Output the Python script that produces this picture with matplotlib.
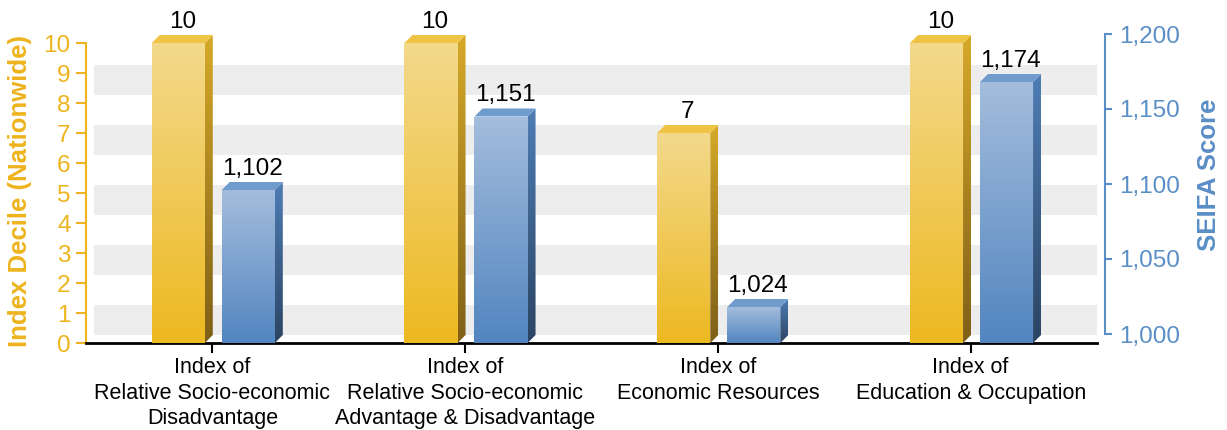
import matplotlib
matplotlib.use('Agg')
import numpy as np
import matplotlib.pyplot as plt
from matplotlib.patches import Polygon, Rectangle
from matplotlib.colors import to_rgb

plt.rcParams['font.family'] = ['Liberation Sans', 'DejaVu Sans']

# ---- data ----
categories = ["Index of\nRelative Socio-economic\nDisadvantage",
              "Index of\nRelative Socio-economic\nAdvantage & Disadvantage",
              "Index of\nEconomic Resources",
              "Index of\nEducation & Occupation"]
decile = [10, 10, 7, 10]
score = [1102, 1151, 1024, 1174]

yellow = '#EDB41E'
blue = '#5A8EC6'
W, H, DPI = 1227, 430, 100
DEPTH = 8  # px of fake 3d depth

fig = plt.figure(figsize=(W / DPI, H / DPI), dpi=DPI)
left, right, bottom, top = 86, 1097, 343, 19
ax1 = fig.add_axes([left / W, (H - bottom) / H, (right - left) / W, (bottom - top) / H])
ax2 = ax1.twinx()
for a in (ax1, ax2):
    a.set_autoscale_on(False)
ax1.set_xlim(-0.5, len(categories) - 0.5)
ax1.set_ylim(0, 10.8)
ax2.set_ylim(1000, 1216)


def depth(ax):
    inv = ax.transData.inverted()
    p0 = inv.transform((0, 0))
    p1 = inv.transform((DEPTH, DEPTH))
    return p1 - p0


def grad(ax, verts, c_top, c_bot, z):
    poly = Polygon(verts, closed=True, facecolor='none', edgecolor='none', zorder=z)
    ax.add_patch(poly)
    xs = [v[0] for v in verts]
    ys = [v[1] for v in verts]
    t = np.linspace(0, 1, 256)[:, None]
    arr = (1 - t) * np.array(to_rgb(c_top)) + t * np.array(to_rgb(c_bot))
    im = ax.imshow(arr[:, None, :], extent=[min(xs), max(xs), min(ys), max(ys)],
                   aspect='auto', origin='upper', interpolation='bilinear', zorder=z)
    im.set_clip_path(poly)


def bar3d(ax, c, v, base, w, cols, label):
    dx, dy = depth(ax)
    x0, x1 = c - w / 2, c + w / 2
    grad(ax, [(x0, base), (x0, v), (x1, v), (x1, base)], cols[0], cols[1], 3)
    grad(ax, [(x1, base), (x1 + dx, base + dy), (x1 + dx, v + dy), (x1, v)], cols[2], cols[3], 3)
    ax.add_patch(Polygon([(x0, v), (x0 + dx, v + dy), (x1 + dx, v + dy), (x1, v)],
                         closed=True, facecolor=cols[4], edgecolor='none', zorder=3, clip_on=False))
    ax.annotate(label, (c + dx / 2, v + dy), xytext=(0, 1.5), textcoords='offset points',
                ha='center', va='bottom', fontsize=17.5, color='black')


# striped back wall, shifted for the 3d look
shift = matplotlib.transforms.ScaledTranslation(DEPTH / DPI, DEPTH / DPI, fig.dpi_scale_trans)
for k in range(0, 10, 2):
    ax1.add_patch(Rectangle((-0.5, k), len(categories), 1, facecolor='#EDEDED',
                            edgecolor='none', zorder=0, transform=ax1.transData + shift))

w = 0.21
ycols = ['#F3D98C', '#EDB921', '#D6A928', '#7E5F17', '#EFC445']
bcols = ['#A4BDDC', '#5285C0', '#4E7DB5', '#2B4462', '#6F9BCD']
for i in range(len(categories)):
    bar3d(ax1, i - 0.135, decile[i], 0, w, ycols, str(decile[i]))
    bar3d(ax2, i + 0.142, score[i], 1000, w, bcols, '{:,}'.format(score[i]))

# left axis
ax1.set_yticks(range(0, 11))
ax1.spines['left'].set_bounds(0, 10)
ax1.spines['left'].set_color(yellow)
ax1.spines['left'].set_linewidth(1.5)
ax1.tick_params(axis='y', colors=yellow, labelsize=17.5, length=7, width=1.5, pad=4)
ax1.set_ylabel('Index Decile (Nationwide)', color=yellow, fontsize=18.5,
               fontweight='bold')
ax1.yaxis.set_label_coords(-0.053, 0.47, transform=ax1.transAxes)
for s in ('top', 'right'):
    ax1.spines[s].set_visible(False)
ax1.spines['bottom'].set_linewidth(2)
ax1.set_xticks(range(len(categories)))
ax1.set_xticklabels(categories, fontsize=15.5, linespacing=1.3)
ax1.tick_params(axis='x', length=7, width=1.5, pad=3)

ax2.axis('off')

# right axis, drawn at the back of the 3d wall
ax3 = fig.add_axes([(left + DEPTH) / W, (H - bottom + 9) / H, (right - left) / W, (bottom - top) / H])
ax3.patch.set_visible(False)
ax3.set_ylim(1000, 1216)
for s in ('top', 'left', 'bottom'):
    ax3.spines[s].set_visible(False)
ax3.set_xticks([])
ax3.yaxis.tick_right()
ax3.yaxis.set_label_position('right')
ax3.set_yticks(range(1000, 1201, 50))
ax3.set_yticklabels(['{:,}'.format(t) for t in range(1000, 1201, 50)])
ax3.spines['right'].set_bounds(1000, 1200)
ax3.spines['right'].set_color(blue)
ax3.spines['right'].set_linewidth(1.5)
ax3.tick_params(axis='y', colors=blue, labelsize=17.5, length=5, width=1.5, pad=5)
ax3.set_ylabel('SEIFA Score', color=blue, fontsize=18.5, fontweight='bold')
ax3.yaxis.set_label_coords(1.091, 0.49, transform=ax3.transAxes)

plt.savefig('out.png', dpi=DPI)
